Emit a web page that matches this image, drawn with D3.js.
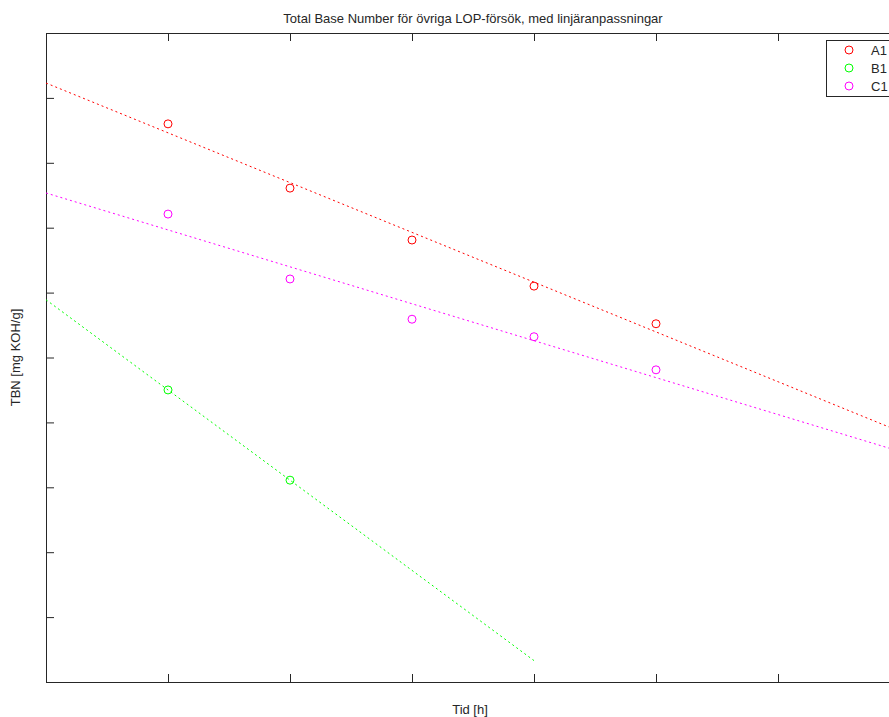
<!DOCTYPE html>
<html>
<head>
<meta charset="utf-8">
<script src="https://cdn.jsdelivr.net/npm/d3@7"></script>
<style>
  html, body { margin: 0; padding: 0; background: #fff; }
  svg { display: block; }
  text { font-family: "Liberation Sans", Arial, sans-serif; fill: #262626; }
</style>
</head>
<body>
<div id="chart"></div>
<script>
// Measurement times (tick positions in hours, unlabelled)
const times = [1, 2, 3, 4, 5];
const xTickValues = [1, 2, 3, 4, 5, 6];
const yTickValues = [1, 2, 3, 4, 5, 6, 7, 8, 9];

// TBN readings per test series
const seriesNames = ["A1", "B1", "C1"];
const seriesColors = ["#ff0000", "#00ff00", "#ff00ff"];
const valuesA1 = [8.60, 7.61, 6.81, 6.10, 5.52];
const valuesB1 = [4.50, 3.11];
const valuesC1 = [7.21, 6.21, 5.59, 5.32, 4.81];
// Extent of each fitted line along the time axis
const fitEnds = [7.2, 4, 7.2];

const series = [valuesA1, valuesB1, valuesC1].map((vals, i) => ({
  name: seriesNames[i],
  color: seriesColors[i],
  points: vals.map((v, j) => ({ t: times[j], v })),
  fitEnd: fitEnds[i]
}));

// Least-squares straight line through a series
function linearFit(points) {
  const mx = d3.mean(points, d => d.t);
  const my = d3.mean(points, d => d.v);
  const sxy = d3.sum(points, d => (d.t - mx) * (d.v - my));
  const sxx = d3.sum(points, d => (d.t - mx) ** 2);
  const k = sxy / sxx;
  return { k, m: my - k * mx };
}

const W = 889, H = 717;
const margin = { left: 46, top: 33 };
const plotRight = 900, plotBottom = 682;

const svg = d3.select("#chart").append("svg")
  .attr("width", W).attr("height", H);

const x = d3.scaleLinear().domain([0, 7]).range([margin.left, plotRight]);
const y = d3.scaleLinear().domain([0, 10]).range([plotBottom, margin.top]);

svg.append("defs").append("clipPath").attr("id", "plot-clip")
  .append("rect")
  .attr("x", margin.left).attr("y", margin.top)
  .attr("width", plotRight - margin.left).attr("height", plotBottom - margin.top);

const axisColor = "#262626";
const tickLen = 8;

function styleAxis(g) {
  g.select(".domain").remove();
  g.selectAll(".tick line").attr("stroke", axisColor);
  g.selectAll(".tick text").remove();
}

// Bottom and top axes (ticks point inward)
svg.append("g").attr("transform", `translate(0,${plotBottom})`)
  .call(d3.axisBottom(x).tickValues(xTickValues).tickSizeInner(-tickLen).tickSizeOuter(0).tickFormat(() => ""))
  .call(styleAxis);
svg.append("g").attr("transform", `translate(0,${margin.top})`)
  .call(d3.axisTop(x).tickValues(xTickValues).tickSizeInner(-tickLen).tickSizeOuter(0).tickFormat(() => ""))
  .call(styleAxis);
// Left axis
svg.append("g").attr("transform", `translate(${margin.left},0)`)
  .call(d3.axisLeft(y).tickValues(yTickValues).tickSizeInner(-tickLen).tickSizeOuter(0).tickFormat(() => ""))
  .call(styleAxis);

// Axes box
svg.append("rect")
  .attr("x", margin.left + 0.5).attr("y", margin.top + 0.5)
  .attr("width", plotRight - margin.left).attr("height", plotBottom - margin.top)
  .attr("fill", "none").attr("stroke", axisColor).attr("stroke-width", 1);

const plot = svg.append("g").attr("clip-path", "url(#plot-clip)");

// Fitted lines
series.forEach(s => {
  const f = linearFit(s.points);
  const ends = [0, s.fitEnd].map(t => ({ t, v: f.k * t + f.m }));
  plot.append("path")
    .datum(ends)
    .attr("d", d3.line().x(d => x(d.t)).y(d => y(d.v)))
    .attr("fill", "none")
    .attr("stroke", s.color)
    .attr("stroke-width", 1)
    .attr("stroke-dasharray", "2,3");
});

// Measured points
series.forEach(s => {
  plot.selectAll(null).data(s.points).enter().append("circle")
    .attr("cx", d => x(d.t)).attr("cy", d => y(d.v))
    .attr("r", 4)
    .attr("fill", "none")
    .attr("stroke", s.color)
    .attr("stroke-width", 1);
});

// Title and axis labels
svg.append("text")
  .attr("x", (margin.left + plotRight) / 2).attr("y", 23)
  .attr("text-anchor", "middle").attr("font-size", 13)
  .text("Total Base Number för övriga LOP-försök, med linjäranpassningar");
svg.append("text")
  .attr("x", (margin.left + plotRight) / 2 - 3).attr("y", 714)
  .attr("text-anchor", "middle").attr("font-size", 13)
  .text("Tid [h]");
svg.append("text")
  .attr("transform", `translate(20,${(margin.top + plotBottom) / 2}) rotate(-90)`)
  .attr("text-anchor", "middle").attr("font-size", 13)
  .text("TBN [mg KOH/g]");

// Legend
const legend = svg.append("g").attr("transform", "translate(826,40)");
legend.append("rect")
  .attr("x", 0.5).attr("y", 0.5).attr("width", 90).attr("height", 56)
  .attr("fill", "#fff").attr("stroke", axisColor);
series.forEach((s, i) => {
  const row = legend.append("g").attr("transform", `translate(0,${10 + i * 18})`);
  row.append("circle").attr("cx", 23).attr("cy", 0).attr("r", 4)
    .attr("fill", "none").attr("stroke", s.color);
  row.append("text").attr("x", 45).attr("y", 4.5).attr("font-size", 13).text(s.name);
});
</script>
</body>
</html>
